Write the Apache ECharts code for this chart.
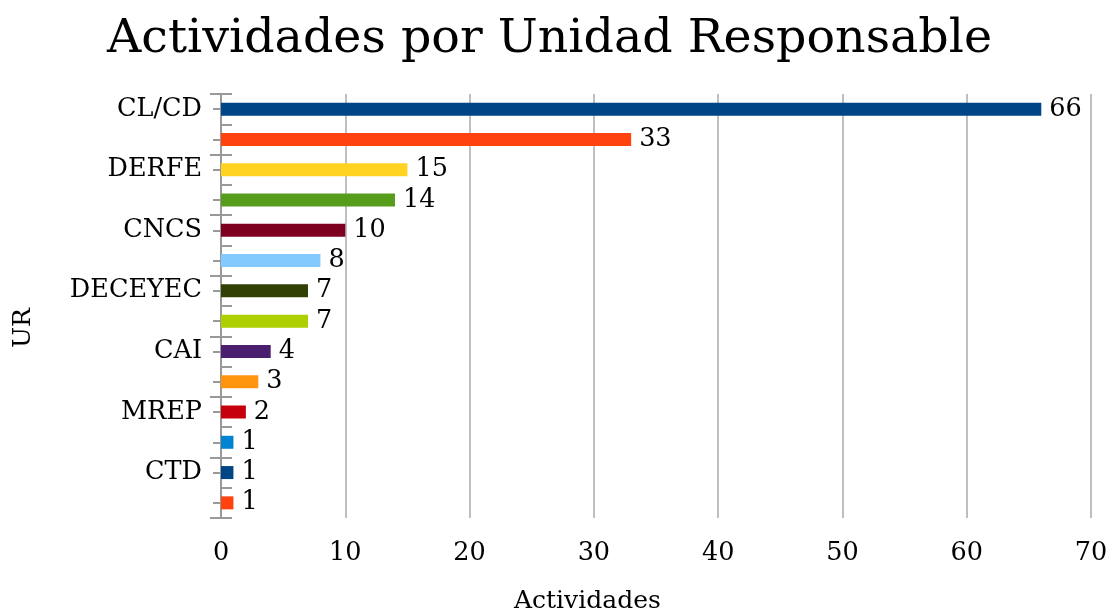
<!DOCTYPE html>
<html>
<head>
<meta charset="utf-8">
<script src="https://cdn.jsdelivr.net/npm/echarts@6/dist/echarts.min.js"></script>
<style>html,body{margin:0;padding:0;background:#fff}#c{width:1111px;height:616px}</style>
</head>
<body>
<div id="c"></div>
<script>
const categories = ['CL/CD','DEOE','DERFE','DEA','CNCS','UTIGyND','DECEYEC','DEPPP','CAI','UTF','MREP','DJ','CTD','UTSI'];
const values = [66,33,15,14,10,8,7,7,4,3,2,1,1,1];
const colors = ['#004586','#ff420e','#ffd320','#579d1c','#7e0021','#83caff','#314004','#aecf00','#4b1f6f','#ff950e','#c5000b','#0084d1','#004586','#ff420e'];
const xTicks = {min:0, max:70, interval:10};
const titleText = 'Actividades por Unidad Responsable';
const xName = 'Actividades';
const yName = 'UR';

const FONT = 'DejaVu Serif';
const FS = 25.5;
const chart = echarts.init(document.getElementById('c'), null, {renderer:'canvas'});
const grid = {left:221, right:20, top:94, bottom:98, outerBoundsMode:'none', containLabel:false};
const baseY = {type:'category', data:categories, inverse:true, position:'left', offset:0};
chart.setOption({
  animation:false,
  title:{text:titleText, left:102, top:11, textStyle:{fontFamily:FONT, fontSize:47.5, fontWeight:'normal', color:'#000'}},
  grid:grid,
  graphic:[
    {type:'text', left:514, top:589, style:{text:xName, font:'25px "DejaVu Serif"', fill:'#000'}},
    {type:'text', x:11, y:348, rotation:Math.PI/2, style:{text:yName, font:'25px "DejaVu Serif"', fill:'#000', textAlign:'left', textVerticalAlign:'top'}}
  ],
  xAxis:{type:'value', min:xTicks.min, max:xTicks.max, interval:xTicks.interval,
    axisLine:{show:false}, axisTick:{show:false},
    axisLabel:{fontFamily:FONT, fontSize:FS, color:'#000', margin:22},
    splitLine:{show:true, lineStyle:{color:'#bfbfbf', width:2}}},
  yAxis:[
    Object.assign({}, baseY, {
      axisLine:{show:true, lineStyle:{color:'#999', width:2}},
      axisTick:{show:true, length:11, inside:false, lineStyle:{color:'#999', width:2}},
      axisLabel:{interval:1, fontFamily:FONT, fontSize:FS, color:'#000', margin:19},
      splitLine:{show:false}}),
    Object.assign({}, baseY, {
      axisLine:{show:false},
      axisTick:{show:true, length:11, inside:true, lineStyle:{color:'#999', width:2}},
      axisLabel:{show:false}, splitLine:{show:false}}),
    Object.assign({}, baseY, {
      axisLine:{show:false},
      axisTick:{show:true, alignWithLabel:true, length:8, inside:false, lineStyle:{color:'#999', width:2}},
      axisLabel:{show:false}, splitLine:{show:false}})
  ],
  series:[{
    type:'bar', yAxisIndex:0, barWidth:13,
    data: values.map((v,i)=>({value:v, itemStyle:{color:colors[i]}})),
    label:{show:true, position:'right', distance:8, fontFamily:FONT, fontSize:FS, color:'#000'}
  }]
});
</script>
</body>
</html>
